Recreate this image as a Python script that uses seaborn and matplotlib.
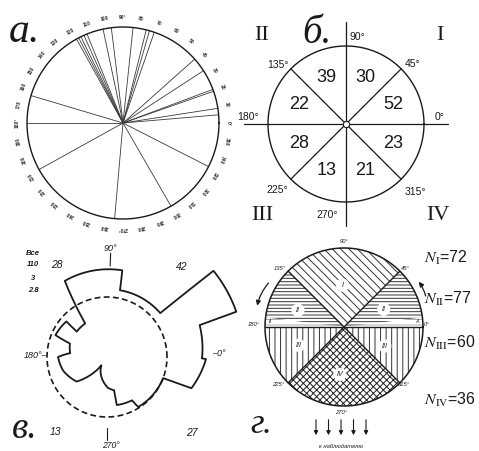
import numpy as np
import pandas as pd
import matplotlib.pyplot as plt
from matplotlib.patches import FancyArrowPatch
import seaborn as sns

sns.set_theme(style="white")
plt.rcParams['font.family'] = ['Liberation Sans', 'DejaVu Sans']
plt.rcParams['mathtext.fontset'] = 'stix'
plt.rcParams['hatch.linewidth'] = 0.7

# ---- data ----
# a. azimuths of the single measurements (degrees, counterclockwise from east)
a_angles = [4.9, 8.8, 19.3, 20.5, 33, 41.7, 71, 74, 76, 84, 97, 102,
            112, 114, 116, 117.5, 119, 163.4, 180, 209, 265, 300, 333]
a_ticks = list(range(0, 360, 10))

# б. counts per 45-degree sector, starting at 0-45
b_counts = [52, 30, 39, 22, 28, 13, 21, 23]
b_angle_text = ["0°", "45°", "90°", "135°", "180°", "225°", "270°", "315°"]
b_quadrants = ["I", "II", "III", "IV"]

# в. rose outline (vertex angle in degrees, radius) and the mean circle
rose_theta = [-0.8, 19, 19.3, 39, 39.5, 79, 80, 119, 123, 140, 138.8, 157,
              160, 174, 180, 197, 219, 236, 272, 282, 281.5, 300, 302,
              339.4, 339.7, 358.8, 359.2]
rose_r = [95, 98, 137, 137, 69, 68, 88, 87, 40, 39.5, 54, 56,
          39.5, 37, 49, 46, 39, 10, 31, 34, 49, 50, 59,
          60, 90, 99, 95]
rose_mean = 60
c_quadrant_counts = [42, 28, 13, 27]   # I, II, III, IV
c_info = ["Все", "110", "3", "2.8"]

# г. sector groups
d_names = ["I", "II", "II", "III", "III", "IV"]
d_start = [45, 0, 135, 180, 315, 225]
d_width = [90, 45, 45, 45, 45, 90]
d_N = [72, 77, 60, 36]

W, H = 479, 451
fig = plt.figure(figsize=(W / 100, H / 100), dpi=100)


def ptext(x, y, s, **kw):
    fig.text(x / W, 1 - y / H, s, **kw)


def polar_panel(cx, cy, half, rmax):
    ax = fig.add_axes([(cx - half) / W, 1 - (cy + half) / H, 2 * half / W, 2 * half / H],
                      projection='polar')
    ax.axis('off')
    ax.set_ylim(0, rmax)
    return ax


def polar_segments(theta_deg, r, steps=16):
    # draw each edge in (theta, r) space so that constant-r edges come out as arcs
    t_out, r_out = [], []
    for i in range(len(theta_deg) - 1):
        t_out.extend(np.linspace(theta_deg[i], theta_deg[i + 1], steps, endpoint=False))
        r_out.extend(np.linspace(r[i], r[i + 1], steps, endpoint=False))
    t_out.append(theta_deg[-1])
    r_out.append(r[-1])
    return np.radians(t_out), np.array(r_out)


full = np.linspace(0, 2 * np.pi, 400)
ink = '#1a1a1a'
serif_it = dict(family=['Liberation Serif', 'DejaVu Serif'], style='italic')

# ================= a =================
ax_a = polar_panel(123, 123, 96 * 1.2, 1.2)
lines_a = pd.DataFrame({
    'id': np.repeat(np.arange(len(a_angles)), 2),
    'theta': np.radians(np.repeat(a_angles, 2)),
    'r': np.tile([0, 1], len(a_angles)),
})
sns.lineplot(data=lines_a, x='theta', y='r', units='id', estimator=None,
             sort=False, color='#3a3a3a', lw=0.6, ax=ax_a)
ax_a.plot(full, np.ones_like(full), color=ink, lw=1.0)
for d in a_ticks:
    lab = f"{d}°" if d % 90 == 0 else str(d)
    ax_a.text(np.radians(d), 1.1, lab, rotation=d - 90, ha='center', va='center',
              fontsize=3.6, color='#333', fontweight='bold')
ax_a.set_xlim(0, 2 * np.pi)
ax_a.set_ylim(0, 1.2)
ptext(9, 42, "а.", fontsize=30, va='baseline', ha='left', color=ink, **serif_it)

# ================= б =================
ax_b = polar_panel(346, 124, 78 * 1.35, 1.35)
ax_b.plot(full, np.ones_like(full), color=ink, lw=1.0)
for k in range(8):
    t = np.radians(45 * k)
    ax_b.plot([t, t], [0, 1.31 if k % 2 == 0 else 1.0], color=ink, lw=0.9)
for k, c in enumerate(b_counts):
    ax_b.text(np.radians(22.5 + 45 * k), 0.65, str(c), ha='center', va='center',
              fontsize=13, color=ink)
ax_b.plot(0, 0, 'o', ms=4.5, mfc='white', mec=ink, mew=0.8)
ax_b.set_ylim(0, 1.35)
b_lab_pos = [(94, 7), (67, 60), (11, 87), (-68, 59), (-98, 7), (-69, -66), (-19, -91), (69, -68)]
for s, (dx, dy) in zip(b_angle_text, b_lab_pos):
    ptext(346 + dx, 124 - dy, s, ha='center', va='center', fontsize=7.5, color=ink)
for s, (x, y) in zip(b_quadrants, [(440, 35), (262, 35), (262, 215), (438, 215)]):
    ptext(x, y, s, ha='center', va='center', fontsize=16, color=ink,
          family=['Liberation Serif', 'DejaVu Serif'])
ptext(302, 43, "б.", fontsize=28, va='baseline', ha='left', color=ink, **serif_it)

# ================= в =================
ax_c = polar_panel(107, 357, 150, 150)
rt, rr = polar_segments(rose_theta, rose_r)
sns.lineplot(x=rt, y=rr, sort=False, estimator=None, color=ink, lw=1.3, ax=ax_c)
ax_c.plot(full, np.full_like(full, rose_mean), color=ink, lw=1.2, ls=(0, (3.5, 2)))
ax_c.plot([np.radians(88), np.radians(88)], [91, 104], color=ink, lw=0.8)
ax_c.plot([np.radians(270), np.radians(270)], [71, 83], color=ink, lw=0.8)
ax_c.set_xlim(0, 2 * np.pi)
ax_c.set_ylim(0, 150)
small_it = dict(style='italic', color=ink)
ptext(110, 248, "90°", ha='center', va='center', fontsize=6.5, **small_it)
ptext(111, 445, "270°", ha='center', va='center', fontsize=6.2, **small_it)
ptext(47, 355, "180°–", ha='right', va='center', fontsize=6.5, **small_it)
ptext(212, 354, "–0°", ha='left', va='center', fontsize=6.5, **small_it)
for s, (x, y) in zip(c_quadrant_counts, [(182, 267), (57, 265), (55, 432), (192, 433)]):
    ptext(x, y, str(s), ha='center', va='center', fontsize=7.5, **small_it)
for s, y in zip(c_info, [253, 265, 278, 291]):
    ptext(33, y, s, ha='center', va='center', fontsize=5.5, fontweight='bold', **small_it)
ptext(12, 438, "в.", fontsize=27, va='baseline', ha='left', color=ink, **serif_it)

# ================= г =================
ax_d = polar_panel(344, 327, 79 * 1.3, 1.3)
hatches = {"I": '\\\\\\\\', "II": '-----', "III": '|||', "IV": 'xxxxx'}
for name, st, wd in zip(d_names, d_start, d_width):
    ax_d.bar(np.radians(st), 1, width=np.radians(wd), bottom=0, align='edge',
             facecolor='white', edgecolor='#333' if name != "IV" else '#222',
             lw=0, hatch=hatches[name])
for st in [0, 173]:
    ax_d.bar(np.radians(st), 1, width=np.radians(7), bottom=0, align='edge',
             facecolor='white', edgecolor='#aaa', lw=0, hatch='---')
ax_d.plot(full, np.ones_like(full), color=ink, lw=1.1)
for ang in [0, 45, 135, 180, 225, 315]:
    ax_d.plot([np.radians(ang)] * 2, [0, 1], color=ink, lw=1.0)
for s, (t, r) in zip(d_names, [(92, 0.53), (24, 0.55), (160, 0.62), (202, 0.62), (335, 0.57), (265, 0.6)]):
    ax_d.text(np.radians(t), r, s, ha='center', va='center', fontsize=5, style='italic',
              color=ink, bbox=dict(boxstyle='circle,pad=0.45', fc='white', ec='none'))
ax_d.text(np.radians(176), 0.93, "II", ha='center', va='center', fontsize=4, style='italic', color=ink)
ax_d.text(np.radians(4), 0.93, "A", ha='center', va='center', fontsize=4, style='italic', color=ink)
ax_d.annotate('', xy=(np.radians(168), 1.13), xytext=(np.radians(148), 1.1),
              arrowprops=dict(arrowstyle='-|>', color=ink, lw=0.9, mutation_scale=7,
                              connectionstyle='arc3,rad=0.15'), annotation_clip=False)
ax_d.annotate('', xy=(np.radians(33), 1.1), xytext=(np.radians(19), 1.1),
              arrowprops=dict(arrowstyle='-|>', color=ink, lw=0.9, mutation_scale=7,
                              connectionstyle='arc3,rad=0.15'), annotation_clip=False)
ax_d.set_xlim(0, 2 * np.pi)
ax_d.set_ylim(0, 1.3)
d_lab = [("90°", 344, 241), ("45°", 405, 268), ("135°", 280, 268), ("180°", 254, 325),
         ("0°", 427, 325), ("225°", 278, 384), ("315°", 404, 384), ("270°", 341, 413)]
for s, x, y in d_lab:
    ptext(x, y, s, ha='center', va='center', fontsize=4.2, **small_it)
roman = ["I", "II", "III", "IV"]
for rn, n, y in zip(roman, d_N, [258, 299, 343, 400]):
    ptext(424, y, rf"$N_{{\mathrm{{{rn}}}}}$=" + str(n), ha='left', va='center',
          fontsize=11.5, color=ink)
for x in np.linspace(316, 366, 5):
    fig.add_artist(FancyArrowPatch(
        (x / W, 1 - 417 / H), (x / W, 1 - 438 / H), transform=fig.transFigure,
        arrowstyle='-|>', mutation_scale=6, lw=0.8, color=ink))
ptext(341, 446, "к наблюдателю", ha='center', va='center', fontsize=4.2, **small_it)
ptext(250, 433, "г.", fontsize=25, va='baseline', ha='left', color=ink, **serif_it)

fig.savefig("out.png", dpi=100)
